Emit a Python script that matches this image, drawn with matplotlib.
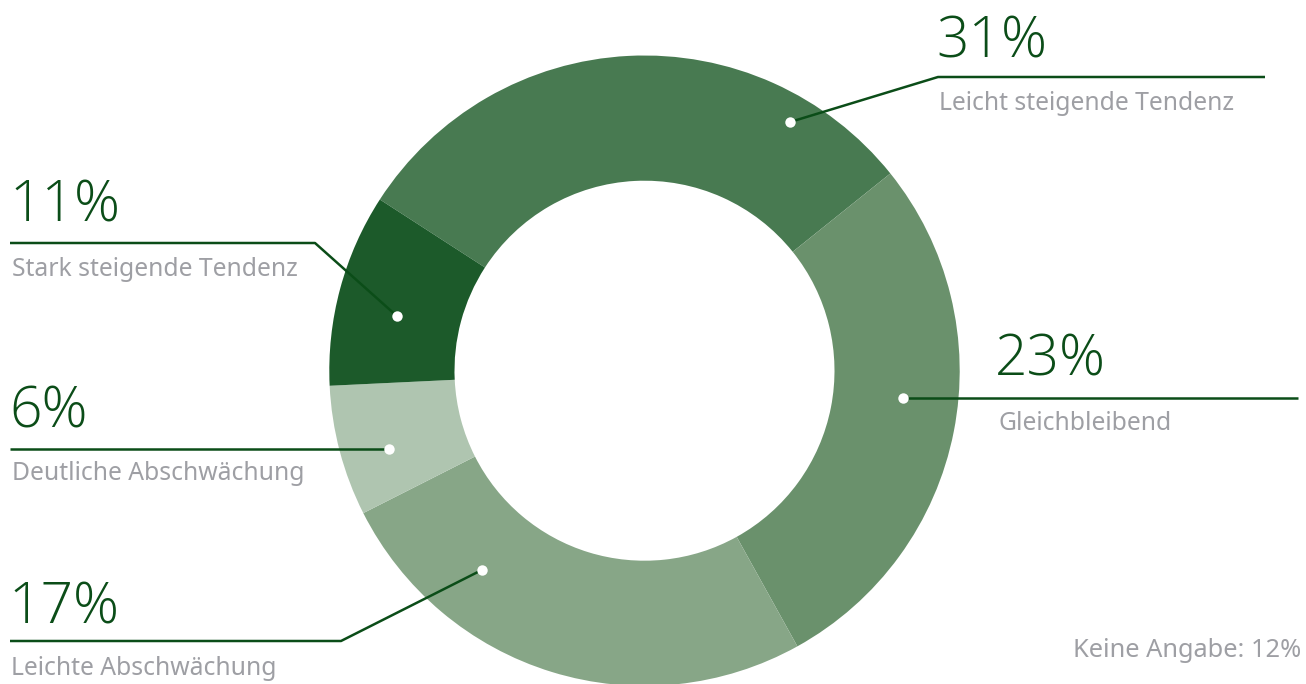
import matplotlib
matplotlib.use('Agg')
import numpy as np
import matplotlib.pyplot as plt

# categories in drawing order (clockwise from top-left)
categories = ['Leicht steigende Tendenz', 'Gleichbleibend', 'Leichte Abschwächung',
              'Deutliche Abschwächung', 'Stark steigende Tendenz']
pct_labels = ['31%', '23%', '17%', '6%', '11%']
# slice sizes as they appear in the drawn ring (share of circle)
slice_shares = [30.1, 27.7, 25.6, 6.7, 9.9]
no_answer = 'Keine Angabe: 12%'

colors = ['#487a51', '#6a916c', '#87a687', '#afc5b0', '#1c5a2a']
dark = '#0b4d18'
grey = '#9e9fa4'

W, H = 1306, 684
fig = plt.figure(figsize=(W / 100, H / 100), dpi=100)
ax = fig.add_axes([0, 0, 1, 1])

cx, cy, R = 644.5, H - 370.7, 315.2
ax.pie(slice_shares, colors=colors, startangle=147.1, counterclock=False,
       center=(cx, cy), radius=R, wedgeprops=dict(width=R - 190.0, linewidth=0),
       frame=True)
ax.set_xlim(0, W)
ax.set_ylim(0, H)
ax.set_aspect('equal')
ax.axis('off')

# anchor of each leader line: angle (deg) and radius inside the ring
anchor_ang = [59.6, -6.0, 230.8, 197.0, 167.5]
anchor_rad = [288.5, 260.0, 257.0, 267.0, 254.0]
# leader path after the dot: (kink x, kink y, end x) in image pixels
leader = [(938, 77, 1265), (None, 398, 1298), (341, 641, 10), (None, 449, 10), (315, 243, 10)]
# text placement: x, big number baseline, label baseline (image pixels)
text_pos = [(936, 57, 110), (995, 376, 430), (8, 623, 675), (9, 427, 480), (9, 222, 276)]

num_font = 'Open Sans'
lab_font = 'Noto Sans'
for i in range(len(categories)):
    a = np.deg2rad(anchor_ang[i])
    px = cx + anchor_rad[i] * np.cos(a)
    py = cy + anchor_rad[i] * np.sin(a)
    kx, ky, ex = leader[i]
    xs, ys = [px], [py]
    if kx is not None:
        xs += [kx, ex]
        ys += [H - ky, H - ky]
    else:
        xs.append(ex)
        ys.append(py)
    ax.plot(xs, ys, color=dark, lw=1.8, solid_capstyle='butt', zorder=3)
    ax.plot(px, py, 'o', color='white', ms=7.5, mec='none', zorder=4)
    tx, nb, lb = text_pos[i]
    ax.text(tx, H - nb, pct_labels[i], color=dark, fontsize=41, family=num_font,
            fontweight='light', ha='left', va='baseline')
    ax.text(tx + 3, H - lb, categories[i], color=grey, fontsize=17.8, family=lab_font,
            ha='left', va='baseline')

ax.text(1301, H - 657, no_answer, color=grey, fontsize=18.3, family=lab_font,
        ha='right', va='baseline')

fig.savefig('out.png', dpi=100)
